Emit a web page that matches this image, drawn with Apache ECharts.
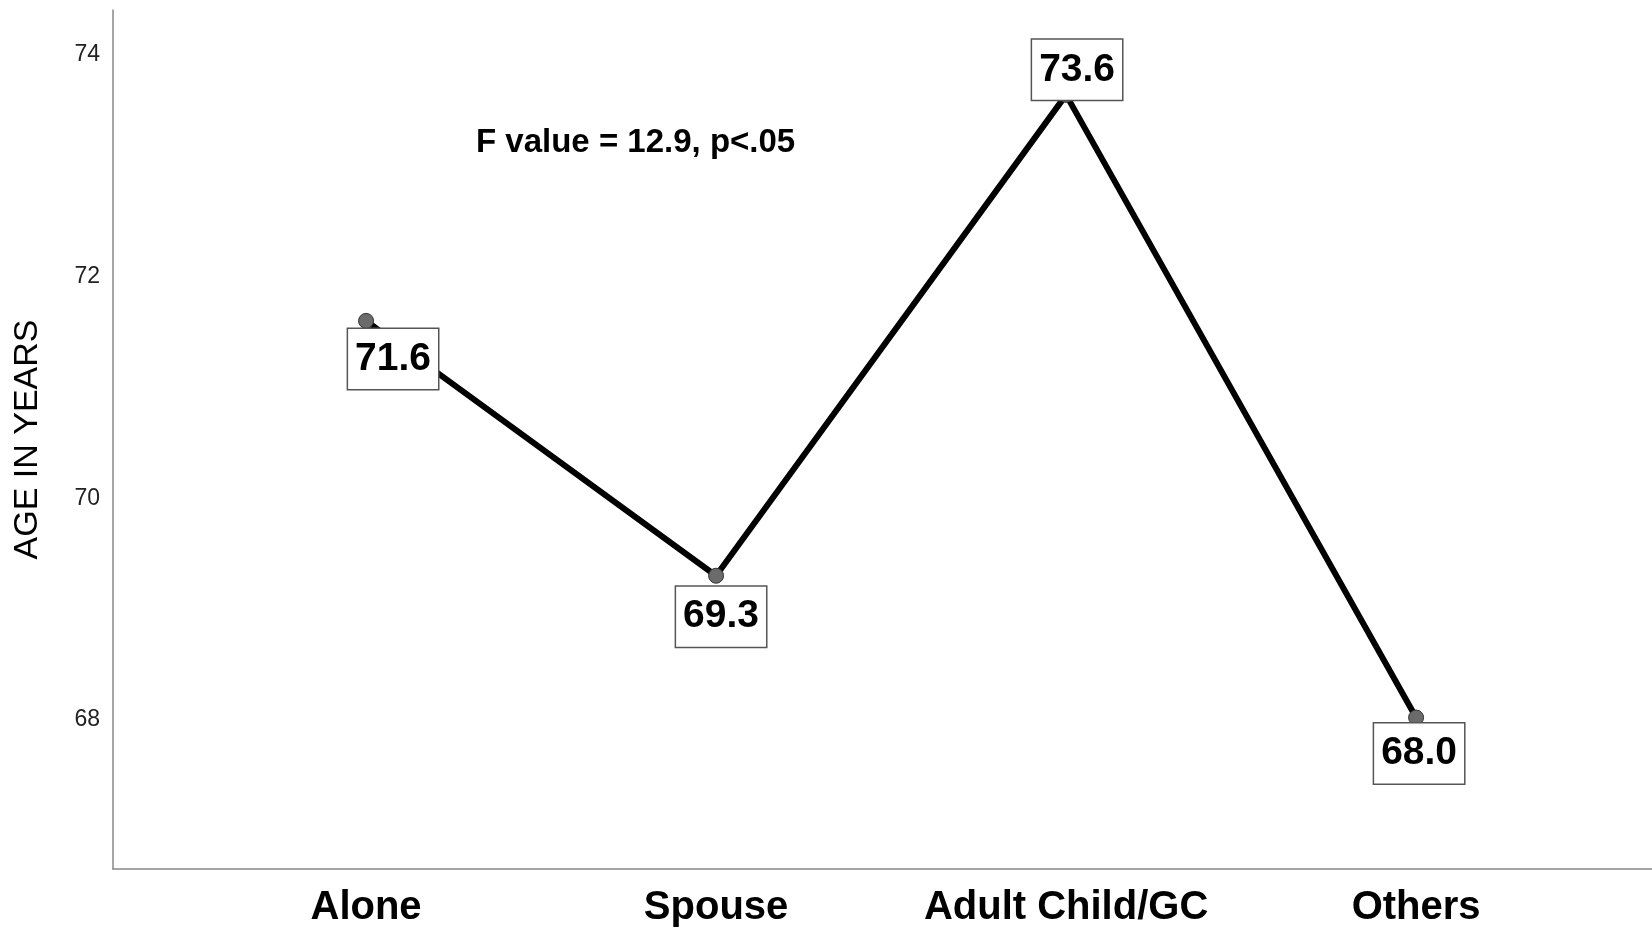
<!DOCTYPE html>
<html>
<head>
<meta charset="utf-8">
<title>Age in years by living arrangement</title>
<script src="https://cdn.jsdelivr.net/npm/echarts@6/dist/echarts.min.js"></script>
<style>
	html, body { margin: 0; padding: 0; background: #fff; }
	#chart { width: 1652px; height: 929px; }
</style>
</head>
<body>
<div id="chart"></div>
<script>
// categories on the x axis
var categories = ['Alone', 'Spouse', 'Adult Child/GC', 'Others'];
// mean age per group
var meanAge = [71.6, 69.3, 73.64, 68.02];
// y tick labels
var yTicks = [68, 70, 72, 74];
var note = 'F value = 12.9, p<.05';

// label box offsets from each point (style only)
var labelOffset = [[27, 38], [5, 41], [11, -25], [3, 36]];

var font = "'Liberation Sans', Arial, sans-serif";

var seriesData = meanAge.map(function (v, i) {
	return {
		value: [i + 1, v],
		label: { offset: labelOffset[i] }
	};
});

var myChart = echarts.init(document.getElementById('chart'));
myChart.setOption({
	animation: false,
	backgroundColor: '#fff',
	grid: {
		left: 113,
		right: 0,
		top: 10,
		bottom: 60
	},
	xAxis: {
		type: 'value',
		min: 0.277,
		max: 4.674,
		splitLine: { show: false },
		axisTick: { show: false },
		axisLine: { lineStyle: { color: '#888', width: 1.5 } },
		axisLabel: {
			customValues: [1, 2, 3, 4],
			formatter: function (v) { return categories[Math.round(v) - 1]; },
			fontFamily: font,
			fontSize: 40,
			fontWeight: 'bold',
			color: '#000',
			margin: 19
		}
	},
	yAxis: {
		type: 'value',
		min: 66.653,
		max: 74.406,
		name: 'AGE IN YEARS',
		nameLocation: 'middle',
		nameRotate: 90,
		nameGap: 68,
		nameTextStyle: { fontFamily: font, fontSize: 34, color: '#000' },
		splitLine: { show: false },
		axisTick: { show: false },
		axisLine: { show: true, lineStyle: { color: '#888', width: 1.5 } },
		axisLabel: {
			customValues: yTicks,
			fontFamily: font,
			fontSize: 23,
			color: '#222',
			margin: 13
		}
	},
	graphic: [
		{
			type: 'text',
			left: 476,
			top: 126,
			style: {
				text: note,
				font: 'bold 33px ' + font,
				fill: '#000'
			}
		}
	],
	series: [
		{
			type: 'line',
			data: seriesData,
			lineStyle: { color: '#000', width: 6 },
			symbol: 'circle',
			symbolSize: 15,
			itemStyle: { color: '#6b6b6b', borderColor: '#333', borderWidth: 1 },
			label: {
				show: true,
				position: 'inside',
				formatter: function (p) { return p.value[1].toFixed(1); },
				fontFamily: font,
				fontSize: 39,
				fontWeight: 'bold',
				color: '#000',
				lineHeight: 40,
				backgroundColor: '#fff',
				borderColor: '#555',
				borderWidth: 1.5,
				padding: [10, 7, 10, 7]
			}
		}
	]
});
</script>
</body>
</html>
